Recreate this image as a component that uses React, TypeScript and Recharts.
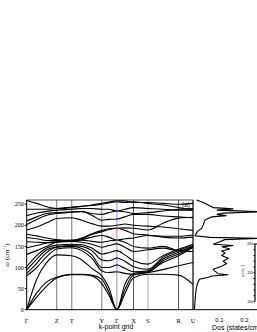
import React from 'react';
import { ComposedChart, Line, XAxis, YAxis, ReferenceLine, Scatter, ScatterChart } from 'recharts';

const kPoints = [0, 10, 20, 30, 45, 55, 65, 75, 82, 90, 98, 106.6, 121, 136, 151.6, 166];
const symPositions = [0, 30, 45, 75, 90, 106.6, 121, 151.6, 166];
const symLabels = ['Γ', 'Z', 'T', 'Y', 'Γ', 'X', 'S', 'R', 'U'];
const freqTicks = [0, 50, 100, 150, 200, 250];

const band01 = [0, 30, 56, 75, 83, 83, 80, 62, 35, 0, 38, 76, 84, 84, 82, 60];
const band02 = [0, 40, 66, 77, 84, 84, 82, 72, 42, 0, 48, 82, 88, 95, 104, 112];
const band03 = [0, 72, 112, 130, 128, 118, 98, 80, 52, 0, 60, 86, 90, 112, 128, 148];
const band04 = [80, 100, 126, 144, 147, 140, 122, 92, 88, 90, 86, 84, 88, 116, 132, 148];
const band05 = [86, 110, 136, 148, 150, 145, 130, 100, 100, 106, 98, 90, 92, 120, 136, 150];
const band06 = [94, 120, 142, 149, 152, 150, 140, 118, 116, 122, 115, 102, 96, 124, 140, 152];
const band07 = [102, 128, 146, 153, 155, 154, 146, 132, 135, 140, 130, 116, 108, 128, 143, 155];
const band08 = [131, 140, 150, 160, 162, 160, 155, 148, 152, 156, 148, 138, 142, 146, 140, 150];
const band09 = [147, 152, 158, 161, 165, 165, 162, 160, 163, 165, 160, 150, 146, 150, 140, 138];
const band10 = [161, 160, 159, 161, 162, 166, 172, 176, 172, 165, 168, 170, 176, 174, 174, 177];
const band11 = [171, 168, 164, 164, 163, 168, 178, 185, 190, 193, 188, 180, 177, 172, 170, 172];
const band12 = [179, 175, 170, 166, 164, 170, 180, 188, 192, 193, 194, 193, 189, 205, 217, 219];
const band13 = [189, 196, 206, 216, 218, 212, 204, 198, 198, 200, 203, 200, 198, 196, 192, 188];
const band14 = [202, 214, 224, 228, 231, 233, 224, 212, 214, 215, 220, 226, 226, 222, 220, 218];
const band15 = [210, 220, 228, 230, 232, 232, 228, 226, 230, 234, 232, 228, 230, 234, 238, 240];
const band16 = [223, 229, 233, 236, 238, 240, 240, 238, 238, 234, 238, 242, 240, 238, 236, 236];
const band17 = [238, 238, 238, 240, 243, 245, 247, 250, 253, 256, 254, 256, 252, 248, 242, 236];
const band18 = [259, 252, 244, 240, 242, 245, 248, 252, 255, 258, 258, 254, 254, 252, 250, 252];
const bands = [band01, band02, band03, band04, band05, band06, band07, band08, band09, band10, band11, band12, band13, band14, band15, band16, band17, band18];

const gammaBlueModes = [256, 234, 215, 122, 106];
const gammaRedModes = [193, 165, 90];

const dosFreq = [260, 254, 248, 242, 239, 236, 232, 229, 226, 223, 220, 213, 201, 193, 185, 175, 171.5, 169, 166, 161, 155, 152, 149, 144, 139, 134, 128, 122, 115, 109, 103, 96, 92, 88, 85, 83, 80, 77, 72, 62, 50, 35, 20, 0];
const dosValue = [0.008, 0.035, 0.055, 0.075, 0.155, 0.089, 0.27, 0.115, 0.089, 0.128, 0.069, 0.042, 0.035, 0.029, 0.011, 0.002, 0.062, 0.27, 0.12, 0.102, 0.075, 0.155, 0.109, 0.142, 0.109, 0.122, 0.109, 0.135, 0.115, 0.128, 0.109, 0.075, 0.08, 0.09, 0.095, 0.135, 0.07, 0.055, 0.02, 0.012, 0.007, 0.004, 0.002, 0];
const dosTicks = [0.1, 0.2];
const dosMinorTicks = [0.05, 0.1, 0.15, 0.2, 0.25, 0.3];
const insetTicks = [100, 110, 120, 130, 140, 150, 160, 170, 180, 190, 200];

const bandRows = kPoints.map((k, i) => {
  const row: Record<string, number> = { k };
  bands.forEach((b, j) => { row['b' + j] = b[i]; });
  return row;
});
const blueData = gammaBlueModes.map((v) => ({ k: 90, v }));
const redData = gammaRedModes.map((v) => ({ k: 90, v }));
const dosData = dosFreq.map((f, i) => ({ d: dosValue[i], f }));
const insetData = [{ x: 0, y: 150 }];

const serif = '"Liberation Serif", "DejaVu Serif", serif';
const sans = '"Liberation Sans", Arial, sans-serif';

const labelFor = (v: number) => {
  const i = symPositions.findIndex((p) => Math.abs(p - v) < 0.01);
  return i >= 0 ? symLabels[i] : '';
};

const SymTick = (props: any) => {
  const { x, y, payload } = props;
  return (
    <text x={x} y={y + 5} textAnchor="middle" fontSize={6.5} fontFamily={serif} fill="#000">
      {labelFor(payload.value)}
    </text>
  );
};

const square = (color: string) => (props: any) => (
  <rect x={props.cx - 1} y={props.cy - 1} width={2} height={2} fill={color} />
);

export default function App() {
  return (
    <div style={{ position: 'absolute', left: 0, top: 0, width: 257, height: 332, overflow: 'hidden', background: '#fff' }}>
      <style>{'body{margin:0;}'}</style>
      <div style={{ position: 'absolute', left: 0, top: 0 }}>
        <ComposedChart width={200} height={332} data={bandRows} margin={{ top: 200, right: 7, bottom: 0.3, left: 0 }}>
          <XAxis
            dataKey="k"
            type="number"
            domain={[0, 166]}
            ticks={symPositions}
            interval={0}
            tickLine={false}
            axisLine={{ stroke: '#000', strokeWidth: 1 }}
            height={22}
            tick={<SymTick />}
          />
          <YAxis
            type="number"
            domain={[0, 260]}
            ticks={freqTicks}
            interval={0}
            width={26.7}
            tickSize={2}
            tickLine={{ stroke: '#000' }}
            axisLine={{ stroke: '#000', strokeWidth: 1 }}
            tick={{ fontSize: 6, fontFamily: serif, fill: '#000' }}
            tickMargin={1}
          />
          <ReferenceLine x={30} stroke="#777" strokeWidth={1} />
          <ReferenceLine x={45} stroke="#777" strokeWidth={1} />
          <ReferenceLine x={75} stroke="#777" strokeWidth={1} />
          <ReferenceLine x={90} stroke="#999" strokeWidth={1} />
          <ReferenceLine x={106.6} stroke="#555" strokeWidth={1} />
          <ReferenceLine x={121} stroke="#aaa" strokeWidth={1} />
          <ReferenceLine x={151.6} stroke="#555" strokeWidth={1} />
          <ReferenceLine x={166} stroke="#000" strokeWidth={1.2} />
          <ReferenceLine y={260} stroke="#555" strokeWidth={1.2} />
          {bands.map((_, j) => (
            <Line
              key={j}
              dataKey={'b' + j}
              type="monotone"
              stroke="#000"
              strokeWidth={1.1}
              dot={false}
              isAnimationActive={false}
            />
          ))}
          <Scatter data={blueData} dataKey="v" shape={square('#3344ff')} isAnimationActive={false} legendType="none" />
          <Scatter data={redData} dataKey="v" shape={square('#ff2222')} isAnimationActive={false} legendType="none" />
        </ComposedChart>
      </div>
      <div style={{ position: 'absolute', left: 193, top: 0 }}>
        <ScatterChart width={80} height={332} margin={{ top: 200, right: 0, bottom: 0.3, left: 0 }}>
          <XAxis
            xAxisId="bottom"
            dataKey="d"
            type="number"
            domain={[-0.006, 0.314]}
            ticks={dosTicks}
            interval={0}
            tickLine={false}
            axisLine={{ stroke: '#000' }}
            height={22}
            tick={{ fontSize: 6, fontFamily: sans, fill: '#000' }}
            tickMargin={2}
          />
          <XAxis
            xAxisId="top"
            orientation="top"
            dataKey="d"
            type="number"
            domain={[-0.006, 0.314]}
            ticks={dosMinorTicks}
            interval={0}
            tick={false}
            mirror
            tickSize={2}
            height={0}
            axisLine={{ stroke: '#555', strokeWidth: 1.2 }}
            tickLine={{ stroke: '#555' }}
          />
          <YAxis dataKey="f" type="number" domain={[0, 260]} hide />
          <Scatter
            xAxisId="bottom"
            data={dosData}
            line={{ stroke: '#000', strokeWidth: 1.1 }}
            lineType="joint"
            shape={() => <g />}
            isAnimationActive={false}
          />
        </ScatterChart>
      </div>
      <div style={{ position: 'absolute', left: 241, top: 0 }}>
        <ScatterChart width={40} height={332} margin={{ top: 244, right: 0, bottom: 30.5, left: 0 }}>
          <XAxis dataKey="x" type="number" domain={[0, 1]} hide />
          <YAxis
            dataKey="y"
            type="number"
            domain={[100, 200]}
            ticks={insetTicks}
            interval={0}
            width={14}
            tickSize={1.5}
            tickFormatter={(v: number) => (v % 50 === 0 ? String(v) : '')}
            tick={{ fontSize: 3.5, fontFamily: sans, fill: '#000' }}
            tickMargin={0.5}
            axisLine={{ stroke: '#000', strokeWidth: 1.2 }}
            tickLine={{ stroke: '#000' }}
          />
          <ReferenceLine y={200} stroke="#000" strokeWidth={1} />
          <Scatter data={insetData} shape={() => <g />} isAnimationActive={false} />
        </ScatterChart>
      </div>
      <div style={{ position: 'absolute', left: 243, top: 271, transform: 'translate(-50%,-50%) rotate(-90deg)', fontSize: 3.5, fontFamily: serif, whiteSpace: 'nowrap', lineHeight: 1 }}>
        ω (cm<sup style={{ fontSize: 2.5 }}>-1</sup>)
      </div>
      <div style={{ position: 'absolute', left: 7, top: 255, transform: 'translate(-50%,-50%) rotate(-90deg)', fontSize: 7, fontFamily: serif, whiteSpace: 'nowrap', lineHeight: 1 }}>
        ω (cm<sup style={{ fontSize: 4.5 }}>-1</sup>)
      </div>
      <div style={{ position: 'absolute', left: 116, top: 326, transform: 'translate(-50%,-50%)', fontSize: 7, fontFamily: sans, whiteSpace: 'nowrap', lineHeight: 1 }}>
        k-point grid
      </div>
      <div style={{ position: 'absolute', left: 212, top: 326.5, transform: 'translate(0,-50%)', fontSize: 7, fontFamily: sans, whiteSpace: 'nowrap', lineHeight: 1 }}>
        Dos (states/cm<sup style={{ fontSize: 4.5 }}>-1</sup>)
      </div>
      <div style={{ position: 'absolute', left: 186, top: 205, transform: 'translate(-50%,-50%)', fontSize: 6.5, fontFamily: sans, whiteSpace: 'nowrap', lineHeight: 1 }}>
        (a)
      </div>
    </div>
  );
}
